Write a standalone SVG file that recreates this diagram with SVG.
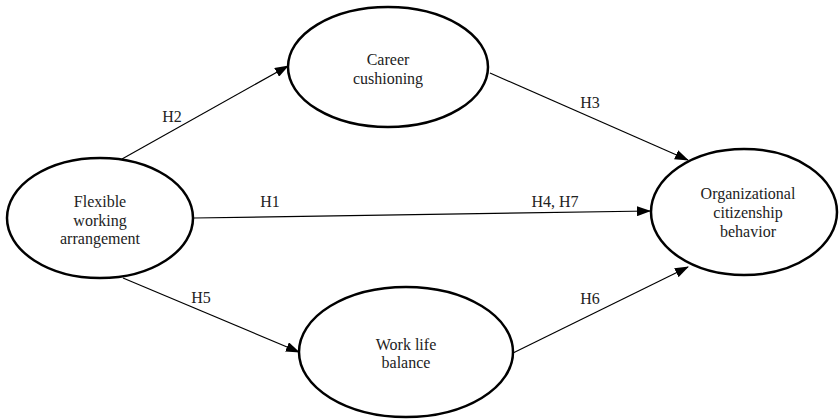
<svg xmlns="http://www.w3.org/2000/svg" width="839" height="420" viewBox="0 0 839 420">
<style>
.node ellipse{fill:#fff;stroke:#000;stroke-width:2.5}
text{font-family:"Liberation Serif","Times New Roman",serif;font-size:16px;fill:#222;text-anchor:middle}
.edge line{stroke:#000;stroke-width:1.2;marker-end:url(#ah)}
</style>
<defs>
<marker id="ah" markerWidth="14" markerHeight="10" refX="13" refY="5" orient="auto" markerUnits="userSpaceOnUse">
<path d="M0,0 L14,5 L0,10 Z" fill="#000"/>
</marker>
</defs>
<rect width="839" height="420" fill="#fff"/>
<g id="connectors" class="edge">
<line x1="122" y1="159" x2="288" y2="66"/>
<line x1="194" y1="218" x2="650" y2="211"/>
<line x1="123" y1="278" x2="299" y2="352"/>
<line x1="490" y1="73" x2="688" y2="160"/>
<line x1="513" y1="353" x2="688" y2="267"/>
</g>
<g id="labels">
<text x="172" y="122">H2</text>
<text x="270" y="207">H1</text>
<text x="555" y="207">H4, H7</text>
<text x="590" y="108">H3</text>
<text x="201" y="303">H5</text>
<text x="590" y="304">H6</text>
</g>
<g id="flexible" class="node">
<ellipse cx="100" cy="218" rx="93" ry="60"/>
<text x="100" y="207">Flexible</text>
<text x="100" y="226">working</text>
<text x="100" y="244">arrangement</text>
</g>
<g id="career" class="node">
<ellipse cx="388" cy="67" rx="100" ry="60"/>
<text x="388" y="65">Career</text>
<text x="388" y="84">cushioning</text>
</g>
<g id="worklife" class="node">
<ellipse cx="406" cy="352" rx="107" ry="65"/>
<text x="406" y="350">Work life</text>
<text x="406" y="368">balance</text>
</g>
<g id="ocb" class="node">
<ellipse cx="744" cy="212" rx="93" ry="63"/>
<text x="748" y="199">Organizational</text>
<text x="748" y="218">citizenship</text>
<text x="748" y="237">behavior</text>
</g>
</svg>
